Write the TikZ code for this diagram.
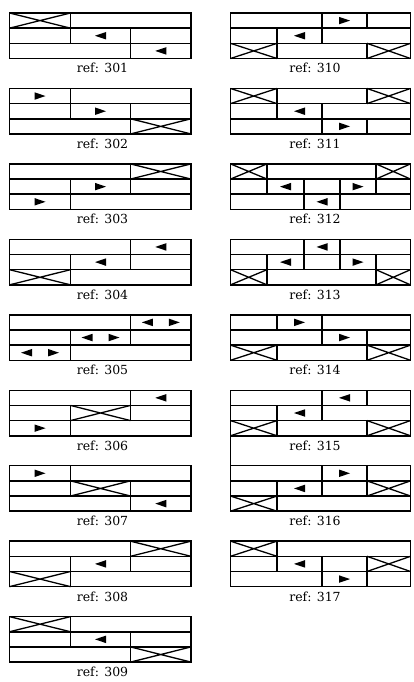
\documentclass[tikz,border=0pt]{standalone}
\usepackage{fontspec}
\setmainfont{DejaVu Serif}
\newcommand\rowh{15.1667}
\tikzset{
  ln/.style={line width=1.5pt, line join=miter},
  lbl/.style={anchor=base, inner sep=0pt, font=\fontsize{12.5}{14}\selectfont},
}
% cell: x1, x2, row, type (0 blank, 1 cross, 2 left arrow, 3 right arrow, 4 both)
\newcommand\Cell[4]{%
  \pgfmathsetmacro\ya{#3*\rowh}\pgfmathsetmacro\yb{(#3+1)*\rowh}%
  \pgfmathsetmacro\cx{(#1+#2)/2}\pgfmathsetmacro\cy{(#3+0.5)*\rowh}%
  \draw[ln] (#1,\ya) rectangle (#2,\yb);
  \ifcase#4\relax
  \or
    \draw[line width=1.3pt] (#1,\ya) -- (#2,\yb) (#1,\yb) -- (#2,\ya);
  \or
    \fill (\cx+5.5,\cy-3.75) -- (\cx-5.5,\cy) -- (\cx+5.5,\cy+3.75) -- cycle;
  \or
    \fill (\cx-5.5,\cy-3.75) -- (\cx+5.5,\cy) -- (\cx-5.5,\cy+3.75) -- cycle;
  \or
    \fill (\cx-13.5+5.5,\cy-3.75) -- (\cx-13.5-5.5,\cy) -- (\cx-13.5+5.5,\cy+3.75) -- cycle;
    \fill (\cx+13.5-5.5,\cy-3.75) -- (\cx+13.5+5.5,\cy) -- (\cx+13.5-5.5,\cy+3.75) -- cycle;
  \fi}
% left column x positions
\def\La{9.5}\def\Lb{70.5}\def\Lc{130.5}\def\Ld{191}
% right column 4-col positions
\def\Ra{230.5}\def\Rb{277}\def\Rc{322}\def\Rd{367}\def\Re{410.5}
% right column 5-col positions
\def\Fa{230.5}\def\Fb{267}\def\Fc{304}\def\Fd{340}\def\Fe{376}\def\Ff{410.5}
\begin{document}
\begin{tikzpicture}[x=1pt, y=-1pt]
\useasboundingbox (0,0) rectangle (413,682);
\fill[white] (0,0) rectangle (413,682);

% ---------- left column ----------
% 301
\begin{scope}[yshift=-13pt]
\Cell{\La}{\Lb}{0}{1}\Cell{\Lb}{\Ld}{0}{0}
\Cell{\La}{\Lb}{1}{0}\Cell{\Lb}{\Lc}{1}{2}\Cell{\Lc}{\Ld}{1}{0}
\Cell{\La}{\Lc}{2}{0}\Cell{\Lc}{\Ld}{2}{2}
\node[lbl] (l301) at (102.5,60) {ref: 301};
\end{scope}
% 302
\begin{scope}[yshift=-88.45pt]
\Cell{\La}{\Lb}{0}{3}\Cell{\Lb}{\Ld}{0}{0}
\Cell{\La}{\Lb}{1}{0}\Cell{\Lb}{\Lc}{1}{3}\Cell{\Lc}{\Ld}{1}{0}
\Cell{\La}{\Lc}{2}{0}\Cell{\Lc}{\Ld}{2}{1}
\node[lbl] (l302) at (102.5,60) {ref: 302};
\end{scope}
% 303
\begin{scope}[yshift=-163.9pt]
\Cell{\La}{\Lc}{0}{0}\Cell{\Lc}{\Ld}{0}{1}
\Cell{\La}{\Lb}{1}{0}\Cell{\Lb}{\Lc}{1}{3}\Cell{\Lc}{\Ld}{1}{0}
\Cell{\La}{\Lb}{2}{3}\Cell{\Lb}{\Ld}{2}{0}
\node[lbl] (l303) at (102.5,60) {ref: 303};
\end{scope}
% 304
\begin{scope}[yshift=-239.35pt]
\Cell{\La}{\Lc}{0}{0}\Cell{\Lc}{\Ld}{0}{2}
\Cell{\La}{\Lb}{1}{0}\Cell{\Lb}{\Lc}{1}{2}\Cell{\Lc}{\Ld}{1}{0}
\Cell{\La}{\Lb}{2}{1}\Cell{\Lb}{\Ld}{2}{0}
\node[lbl] (l304) at (102.5,60) {ref: 304};
\end{scope}
% 305
\begin{scope}[yshift=-314.8pt]
\Cell{\La}{\Lc}{0}{0}\Cell{\Lc}{\Ld}{0}{4}
\Cell{\La}{\Lb}{1}{0}\Cell{\Lb}{\Lc}{1}{4}\Cell{\Lc}{\Ld}{1}{0}
\Cell{\La}{\Lb}{2}{4}\Cell{\Lb}{\Ld}{2}{0}
\node[lbl] (l305) at (102.5,60) {ref: 305};
\end{scope}
% 306
\begin{scope}[yshift=-390.25pt]
\Cell{\La}{\Lc}{0}{0}\Cell{\Lc}{\Ld}{0}{2}
\Cell{\La}{\Lb}{1}{0}\Cell{\Lb}{\Lc}{1}{1}\Cell{\Lc}{\Ld}{1}{0}
\Cell{\La}{\Lb}{2}{3}\Cell{\Lb}{\Ld}{2}{0}
\node[lbl] (l306) at (102.5,60) {ref: 306};
\end{scope}
% 307
\begin{scope}[yshift=-465.7pt]
\Cell{\La}{\Lb}{0}{3}\Cell{\Lb}{\Ld}{0}{0}
\Cell{\La}{\Lb}{1}{0}\Cell{\Lb}{\Lc}{1}{1}\Cell{\Lc}{\Ld}{1}{0}
\Cell{\La}{\Lc}{2}{0}\Cell{\Lc}{\Ld}{2}{2}
\node[lbl] (l307) at (102.5,60) {ref: 307};
\end{scope}
% 308
\begin{scope}[yshift=-541.15pt]
\Cell{\La}{\Lc}{0}{0}\Cell{\Lc}{\Ld}{0}{1}
\Cell{\La}{\Lb}{1}{0}\Cell{\Lb}{\Lc}{1}{2}\Cell{\Lc}{\Ld}{1}{0}
\Cell{\La}{\Lb}{2}{1}\Cell{\Lb}{\Ld}{2}{0}
\node[lbl] (l308) at (102.5,60) {ref: 308};
\end{scope}
% 309
\begin{scope}[yshift=-616.6pt]
\Cell{\La}{\Lb}{0}{1}\Cell{\Lb}{\Ld}{0}{0}
\Cell{\La}{\Lb}{1}{0}\Cell{\Lb}{\Lc}{1}{2}\Cell{\Lc}{\Ld}{1}{0}
\Cell{\La}{\Lc}{2}{0}\Cell{\Lc}{\Ld}{2}{1}
\node[lbl] (l309) at (102.5,60) {ref: 309};
\end{scope}

% ---------- right column ----------
% 310
\begin{scope}[yshift=-13pt]
\Cell{\Ra}{\Rc}{0}{0}\Cell{\Rc}{\Rd}{0}{3}\Cell{\Rd}{\Re}{0}{0}
\Cell{\Ra}{\Rb}{1}{0}\Cell{\Rb}{\Rc}{1}{2}\Cell{\Rc}{\Re}{1}{0}
\Cell{\Ra}{\Rb}{2}{1}\Cell{\Rb}{\Rd}{2}{0}\Cell{\Rd}{\Re}{2}{1}
\node[lbl] (l310) at (315,60) {ref: 310};
\end{scope}
% 311
\begin{scope}[yshift=-88.45pt]
\Cell{\Ra}{\Rb}{0}{1}\Cell{\Rb}{\Rd}{0}{0}\Cell{\Rd}{\Re}{0}{1}
\Cell{\Ra}{\Rb}{1}{0}\Cell{\Rb}{\Rc}{1}{2}\Cell{\Rc}{\Re}{1}{0}
\Cell{\Ra}{\Rc}{2}{0}\Cell{\Rc}{\Rd}{2}{3}\Cell{\Rd}{\Re}{2}{0}
\node[lbl] (l311) at (315,60) {ref: 311};
\end{scope}
% 312
\begin{scope}[yshift=-163.9pt]
\Cell{\Fa}{\Fb}{0}{1}\Cell{\Fb}{\Fe}{0}{0}\Cell{\Fe}{\Ff}{0}{1}
\Cell{\Fa}{\Fb}{1}{0}\Cell{\Fb}{\Fc}{1}{2}\Cell{\Fc}{\Fd}{1}{0}\Cell{\Fd}{\Fe}{1}{3}\Cell{\Fe}{\Ff}{1}{0}
\Cell{\Fa}{\Fc}{2}{0}\Cell{\Fc}{\Fd}{2}{2}\Cell{\Fd}{\Ff}{2}{0}
\node[lbl] (l312) at (315,60) {ref: 312};
\end{scope}
% 313
\begin{scope}[yshift=-239.35pt]
\Cell{\Fa}{\Fc}{0}{0}\Cell{\Fc}{\Fd}{0}{2}\Cell{\Fd}{\Ff}{0}{0}
\Cell{\Fa}{\Fb}{1}{0}\Cell{\Fb}{\Fc}{1}{2}\Cell{\Fc}{\Fd}{1}{0}\Cell{\Fd}{\Fe}{1}{3}\Cell{\Fe}{\Ff}{1}{0}
\Cell{\Fa}{\Fb}{2}{1}\Cell{\Fb}{\Fe}{2}{0}\Cell{\Fe}{\Ff}{2}{1}
\node[lbl] (l313) at (315,60) {ref: 313};
\end{scope}
% 314
\begin{scope}[yshift=-314.8pt]
\Cell{\Ra}{\Rb}{0}{0}\Cell{\Rb}{\Rc}{0}{3}\Cell{\Rc}{\Re}{0}{0}
\Cell{\Ra}{\Rc}{1}{0}\Cell{\Rc}{\Rd}{1}{3}\Cell{\Rd}{\Re}{1}{0}
\Cell{\Ra}{\Rb}{2}{1}\Cell{\Rb}{\Rd}{2}{0}\Cell{\Rd}{\Re}{2}{1}
\node[lbl] (l314) at (315,60) {ref: 314};
\end{scope}
% 315
\begin{scope}[yshift=-390.25pt]
\Cell{\Ra}{\Rc}{0}{0}\Cell{\Rc}{\Rd}{0}{2}\Cell{\Rd}{\Re}{0}{0}
\Cell{\Ra}{\Rb}{1}{0}\Cell{\Rb}{\Rc}{1}{2}\Cell{\Rc}{\Re}{1}{0}
\Cell{\Ra}{\Rb}{2}{1}\Cell{\Rb}{\Rd}{2}{0}\Cell{\Rd}{\Re}{2}{1}
\node[lbl] (l315) at (315,60) {ref: 315};
\draw[ln] (\Ra,45.5) -- (\Ra,75.45);
\end{scope}
% 316
\begin{scope}[yshift=-465.7pt]
\Cell{\Ra}{\Rc}{0}{0}\Cell{\Rc}{\Rd}{0}{3}\Cell{\Rd}{\Re}{0}{0}
\Cell{\Ra}{\Rb}{1}{0}\Cell{\Rb}{\Rc}{1}{2}\Cell{\Rc}{\Rd}{1}{0}\Cell{\Rd}{\Re}{1}{1}
\Cell{\Ra}{\Rb}{2}{1}\Cell{\Rb}{\Re}{2}{0}
\node[lbl] (l316) at (315,60) {ref: 316};
\end{scope}
% 317
\begin{scope}[yshift=-541.15pt]
\Cell{\Ra}{\Rb}{0}{1}\Cell{\Rb}{\Re}{0}{0}
\Cell{\Ra}{\Rb}{1}{0}\Cell{\Rb}{\Rc}{1}{2}\Cell{\Rc}{\Rd}{1}{0}\Cell{\Rd}{\Re}{1}{1}
\Cell{\Ra}{\Rc}{2}{0}\Cell{\Rc}{\Rd}{2}{3}\Cell{\Rd}{\Re}{2}{0}
\node[lbl] (l317) at (315,60) {ref: 317};
\end{scope}
\end{tikzpicture}
\end{document}
